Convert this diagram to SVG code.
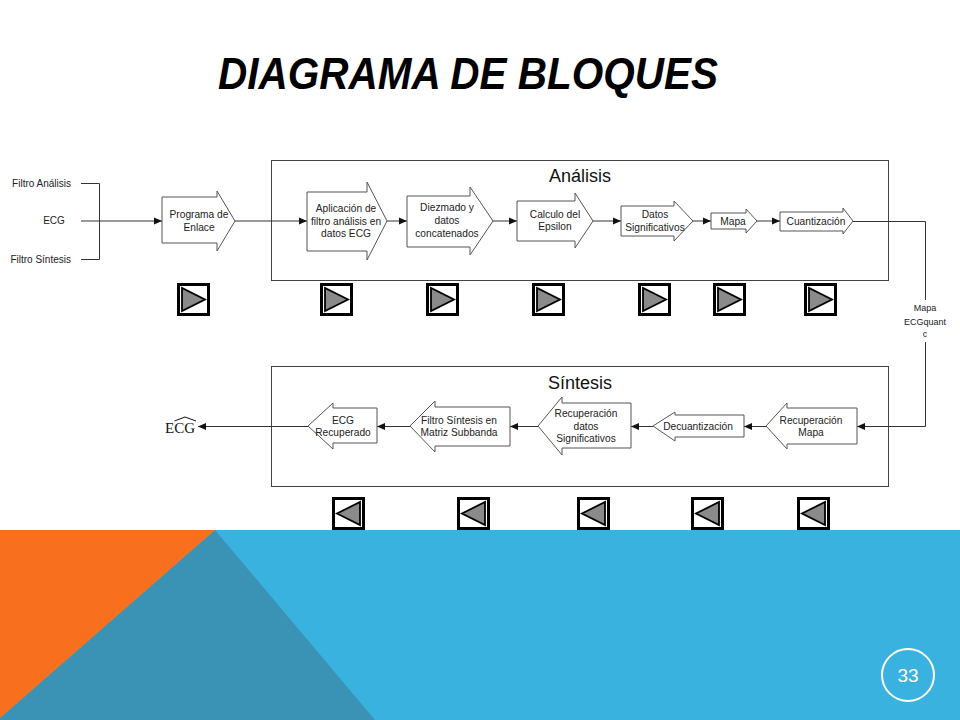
<svg xmlns="http://www.w3.org/2000/svg" xmlns:xlink="http://www.w3.org/1999/xlink" width="960" height="720" viewBox="0 0 960 720">
<style>
.blk{fill:#fff;stroke:#555;stroke-width:1}
.lbl{font-family:"Liberation Sans",Arial,sans-serif;font-size:10.2px;fill:#222;text-anchor:middle}
.side{font-family:"Liberation Sans",Arial,sans-serif;font-size:10px;fill:#222}
.map{font-family:"Liberation Sans",Arial,sans-serif;font-size:9px;fill:#222;text-anchor:middle}
.frame{fill:#fff;stroke:#444;stroke-width:1}
.ttl{font-family:"Liberation Sans",Arial,sans-serif;font-size:18px;fill:#111;text-anchor:middle}
.wire{fill:none;stroke:#333;stroke-width:1}
.arr{marker-end:url(#ah)}
</style>
<defs>
<marker id="ah" viewBox="0 0 8 8" refX="8" refY="4" markerWidth="8" markerHeight="8" markerUnits="userSpaceOnUse" orient="auto">
<path d="M0,0.5 L8,4 L0,7.5 Z" fill="#111"/>
</marker>
<g id="btnR">
<rect x="1.5" y="1.5" width="30" height="30" fill="#fff" stroke="#000" stroke-width="3"/>
<polygon points="5,5 5,28 28,16.5" fill="#8a8a8a" stroke="#000" stroke-width="1.8" stroke-linejoin="miter"/>
</g>
<g id="btnL">
<rect x="1.5" y="1.5" width="30" height="30" fill="#fff" stroke="#000" stroke-width="3"/>
<polygon points="28,5 28,28 5,16.5" fill="#8a8a8a" stroke="#000" stroke-width="1.8"/>
</g>
</defs>

<g id="background">
<rect x="0" y="0" width="960" height="720" fill="#fff"/>
<rect x="0" y="530" width="960" height="190" fill="#3AB2E0"/>
<polygon points="215,530 375,720 0,720 0,718" fill="#3A93B4"/>
<polygon points="0,530 215,530 0,718" fill="#F86F1E"/>
</g>

<text id="title" x="218" y="89" font-family="'Liberation Sans',Arial,sans-serif" font-size="44" font-weight="bold" font-style="italic" fill="#000" textLength="500" lengthAdjust="spacingAndGlyphs">DIAGRAMA DE BLOQUES</text>

<g id="box-analisis">
<rect class="frame" x="271.5" y="160.5" width="617" height="120"/>
<text class="ttl" x="580" y="182">Análisis</text>
</g>
<g id="box-sintesis">
<rect class="frame" x="271.5" y="366.5" width="617" height="120"/>
<text class="ttl" x="580" y="389">Síntesis</text>
</g>

<g id="inputs">
<text class="side" x="71" y="186.5" text-anchor="end">Filtro Análisis</text>
<text class="side" x="54" y="223.5" text-anchor="middle">ECG</text>
<text class="side" x="71" y="262.5" text-anchor="end">Filtro Síntesis</text>
</g>

<g id="connectors">
<polyline class="wire" points="81,183.5 99.5,183.5 99.5,259.5 81,259.5"/>
<line class="wire arr" x1="81" y1="221" x2="162" y2="221"/>
<line class="wire arr" x1="235" y1="221" x2="307" y2="221"/>
<line class="wire arr" x1="387" y1="221" x2="407" y2="221"/>
<line class="wire arr" x1="493" y1="221" x2="517" y2="221"/>
<line class="wire arr" x1="593" y1="221" x2="621" y2="221"/>
<line class="wire arr" x1="693" y1="221" x2="711" y2="221"/>
<line class="wire arr" x1="757" y1="221" x2="780" y2="221"/>
<polyline class="wire" points="853,221.5 925.5,221.5 925.5,300"/>
<polyline class="wire arr" points="925.5,342 925.5,426.5 857,426.5"/>
<line class="wire arr" x1="766" y1="426.5" x2="744" y2="426.5"/>
<line class="wire arr" x1="653" y1="426.5" x2="631" y2="426.5"/>
<line class="wire arr" x1="538" y1="426.5" x2="510" y2="426.5"/>
<line class="wire arr" x1="410" y1="426.5" x2="377" y2="426.5"/>
<line class="wire arr" x1="308" y1="426.5" x2="198" y2="426.5"/>
</g>

<g id="label-mapa">
<text class="map" x="925" y="311">Mapa</text>
<text class="map" x="925" y="325">ECGquant</text>
<text class="map" x="925" y="337">c</text>
</g>

<g id="output-ecg">
<text x="165" y="433" font-family="'Liberation Serif','Times New Roman',serif" font-size="15" fill="#111">ECG</text>
<polyline points="174.5,421 185,417 196,421" fill="none" stroke="#111" stroke-width="1"/>
</g>

<g id="n-programa">
<path class="blk" d="M162,197 H217 V191 L235,221 L217,251 V243 H162 Z"/>
<text class="lbl" x="199" y="217.5">Programa de</text>
<text class="lbl" x="199" y="230.5">Enlace</text>
</g>
<g id="n-aplicacion">
<path class="blk" d="M307,192 H367 V182 L387,221 L367,260 V251 H307 Z"/>
<text class="lbl" x="346" y="211.5">Aplicación de</text>
<text class="lbl" x="346" y="224.5">filtro análisis en</text>
<text class="lbl" x="346" y="237">datos ECG</text>
</g>
<g id="n-diezmado">
<path class="blk" d="M407,196 H470 V187 L493,221 L470,255 V247 H407 Z"/>
<text class="lbl" x="447" y="210.5">Diezmado y</text>
<text class="lbl" x="447" y="224">datos</text>
<text class="lbl" x="447" y="237">concatenados</text>
</g>
<g id="n-epsilon">
<path class="blk" d="M517,201 H575 V193 L593,221 L575,248 V241 H517 Z"/>
<text class="lbl" x="555" y="217.5">Calculo del</text>
<text class="lbl" x="555" y="230">Epsilon</text>
</g>
<g id="n-datos">
<path class="blk" d="M621,206 H674 V201 L693,221 L674,241 V236 H621 Z"/>
<text class="lbl" x="655" y="217.5">Datos</text>
<text class="lbl" x="655" y="230.5">Significativos</text>
</g>
<g id="n-mapa">
<path class="blk" d="M711,213 H746 V209 L757,221 L746,233 V229 H711 Z"/>
<text class="lbl" x="733" y="224.5">Mapa</text>
</g>
<g id="n-cuantizacion">
<path class="blk" d="M780,212 H843 V208 L853,221 L843,234 V231 H780 Z"/>
<text class="lbl" x="816" y="224.5">Cuantización</text>
</g>

<g id="n-recmapa">
<path class="blk" d="M857,408 H787 V403 L766,426 L787,449 V444 H857 Z"/>
<text class="lbl" x="811" y="423.5">Recuperación</text>
<text class="lbl" x="811" y="436">Mapa</text>
</g>
<g id="n-decuant">
<path class="blk" d="M744,415 H675 V412 L653,426 L675,441 V437 H744 Z"/>
<text class="lbl" x="698" y="430">Decuantización</text>
</g>
<g id="n-recdatos">
<path class="blk" d="M631,403 H562 V397 L538,426 L562,455 V448 H631 Z"/>
<text class="lbl" x="586" y="416.5">Recuperación</text>
<text class="lbl" x="586" y="429.5">datos</text>
<text class="lbl" x="586" y="442">Significativos</text>
</g>
<g id="n-filtro">
<path class="blk" d="M510,407 H435 V401 L410,426 L435,452 V446 H510 Z"/>
<text class="lbl" x="459" y="423.5">Filtro Síntesis en</text>
<text class="lbl" x="459" y="436">Matriz Subbanda</text>
</g>
<g id="n-ecgrec">
<path class="blk" d="M377,408 H333 V403 L308,426 L333,449 V443 H377 Z"/>
<text class="lbl" x="343" y="423.5">ECG</text>
<text class="lbl" x="343" y="436">Recuperado</text>
</g>

<g id="buttons-top">
<use xlink:href="#btnR" x="177" y="283"/>
<use xlink:href="#btnR" x="320" y="283"/>
<use xlink:href="#btnR" x="426" y="283"/>
<use xlink:href="#btnR" x="532" y="283"/>
<use xlink:href="#btnR" x="638" y="283"/>
<use xlink:href="#btnR" x="713" y="283"/>
<use xlink:href="#btnR" x="804" y="283"/>
</g>
<g id="buttons-bottom">
<use xlink:href="#btnL" x="332" y="497"/>
<use xlink:href="#btnL" x="457" y="497"/>
<use xlink:href="#btnL" x="577" y="497"/>
<use xlink:href="#btnL" x="691" y="497"/>
<use xlink:href="#btnL" x="797" y="497"/>
</g>

<g id="page-number">
<circle cx="908" cy="675" r="26" fill="none" stroke="#fff" stroke-width="2"/>
<text x="908" y="682" font-family="'Liberation Sans',Arial,sans-serif" font-size="19" fill="#fff" text-anchor="middle">33</text>
</g>
</svg>
